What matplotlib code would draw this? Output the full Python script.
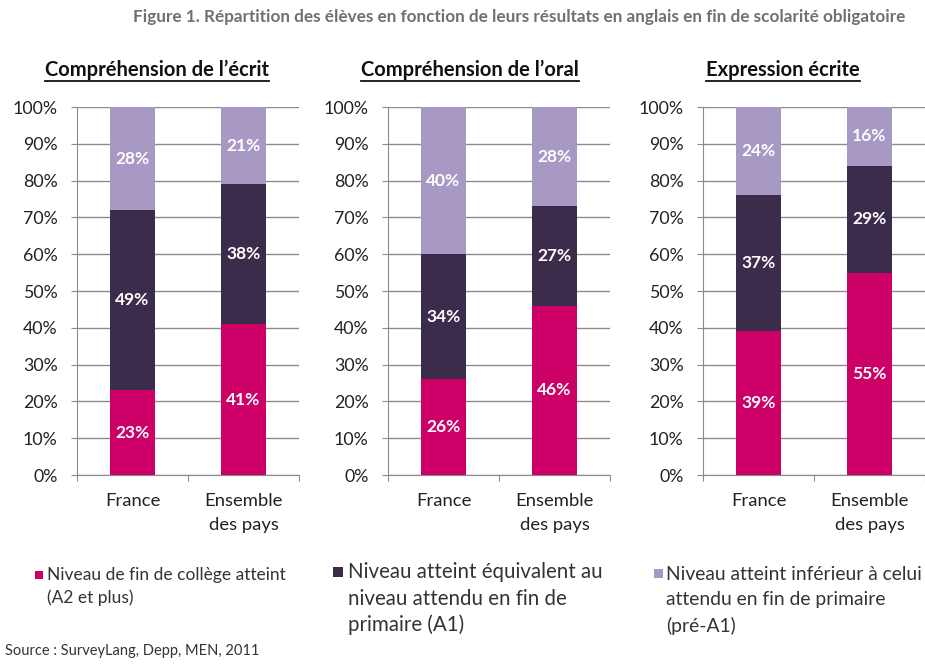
import matplotlib
matplotlib.use("Agg")
import matplotlib.pyplot as plt
from matplotlib.patches import Rectangle

plt.rcParams['font.family'] = ['Lato', 'DejaVu Sans']

categories = ["France", "Ensemble\ndes pays"]
panel_titles = ["Compréhension de l’écrit", "Compréhension de l’oral", "Expression écrite"]
# order: A2 et plus, A1, pré-A1
a2_plus = [[23, 41], [26, 46], [39, 55]]
a1 = [[49, 38], [34, 27], [37, 29]]
pre_a1 = [[28, 21], [40, 28], [24, 16]]
yticks = [0, 10, 20, 30, 40, 50, 60, 70, 80, 90, 100]
legend_labels = [["Niveau de fin de collège atteint", "(A2 et plus)"],
                 ["Niveau atteint équivalent au", "niveau attendu en fin de", "primaire (A1)"],
                 ["Niveau atteint inférieur à celui", "attendu en fin de primaire", "(pré-A1)"]]
colors = ["#CC0066", "#3C2C4C", "#A898C4"]

W, H = 925, 664
fig = plt.figure(figsize=(W / 100, H / 100), dpi=100)
fig.patch.set_facecolor("white")

axes_left = [77, 388, 703]
ax_w, y0, y100 = 222, 475, 107

fig.text(519 / W, 1 - 17 / H, "Figure 1. Répartition des élèves en fonction de leurs résultats en anglais en fin de scolarité obligatoire",
         ha="center", va="center", fontsize=12.3, fontweight="bold", color="#707070")

title_x = [157, 470, 783]
for i in range(3):
    left = axes_left[i]
    ax = fig.add_axes([left / W, (H - y0) / H, ax_w / W, (y0 - y100) / H])
    ax.set_xlim(0, 2)
    ax.set_ylim(0, 100)
    x = [0.5, 1.5]
    bw = 0.4
    bottoms = [0, 0]
    for series, col in zip([a2_plus[i], a1[i], pre_a1[i]], colors):
        ax.bar(x, series, bottom=bottoms, width=bw, color=col, zorder=3, clip_on=True)
        for xi, v, b in zip(x, series, bottoms):
            top = min(b + v, 100)
            ax.text(xi, (b + top) / 2, f"{v}%", ha="center", va="center", color="white",
                    fontsize=12.5, fontweight="bold", zorder=4)
        bottoms = [b + v for b, v in zip(bottoms, series)]
    ax.set_yticks(yticks)
    ax.set_yticklabels([f"{t}%" for t in yticks], fontsize=12.8, color="#222222")
    ax.yaxis.grid(True, color="#8C8C8C", linewidth=1, zorder=0)
    ax.set_axisbelow(True)
    ax.set_xticks([0, 1, 2])
    ax.set_xticklabels([])
    ax.tick_params(axis="x", length=4, color="#8C8C8C", direction="out")
    ax.tick_params(axis="y", length=4, color="#8C8C8C", pad=10)
    for xi, c in zip(x, categories):
        ax.text(xi, -5.0, c, ha="center", va="top", fontsize=13.3, color="#222222",
                linespacing=1.6)
    for s in ["top", "right"]:
        ax.spines[s].set_visible(False)
    ax.spines["left"].set_color("#8C8C8C")
    ax.spines["bottom"].set_color("#8C8C8C")
    t = fig.text(title_x[i] / W, 1 - 70 / H, panel_titles[i], ha="center", va="center",
                 fontsize=14.5, fontweight="bold", color="#111111")
    fig.canvas.draw()
    bb = t.get_window_extent()
    fig.add_artist(plt.Line2D([bb.x0 / W, bb.x1 / W], [(bb.y0 - 1) / H, (bb.y0 - 1) / H],
                              color="#111111", linewidth=1.3, transform=fig.transFigure))

# legend
leg_sq = [(35, 571, 8), (333, 567, 10), (654, 569, 9)]
leg_x = [47, 348, 666]
leg_fs = [12.5, 14.8, 13.9]
leg_y = [[575, 598], [572, 599, 625], [574, 600, 626]]
for i in range(3):
    sx, sy, ss = leg_sq[i]
    fig.add_artist(Rectangle((sx / W, 1 - (sy + ss) / H), ss / W, ss / H,
                             facecolor=colors[i], edgecolor="none", transform=fig.transFigure))
    for line, ly in zip(legend_labels[i], leg_y[i]):
        fig.text(leg_x[i] / W, 1 - ly / H, line, ha="left", va="center",
                 fontsize=leg_fs[i], color="#333333")

fig.text(5 / W, 1 - 651 / H, "Source : SurveyLang, Depp, MEN, 2011", ha="left", va="center",
         fontsize=10.5, color="#333333")

fig.savefig("out.png", dpi=100)
